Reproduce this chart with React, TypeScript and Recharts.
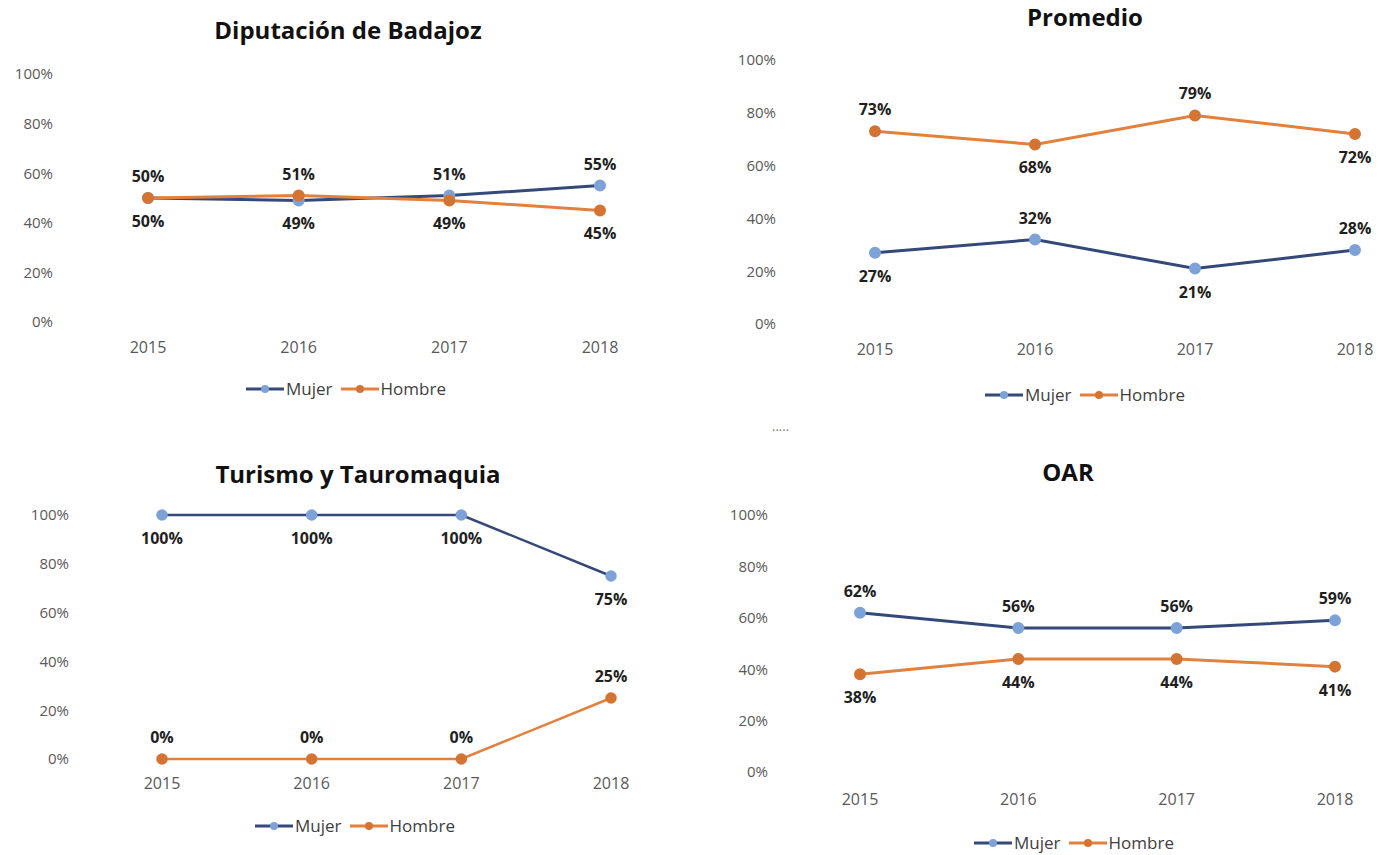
import { LineChart, Line, XAxis, YAxis, Legend, LabelList } from "recharts";

const years = ["2015", "2016", "2017", "2018"];
const yTicks = [0, 20, 40, 60, 80, 100];

const badajozMujer = [50, 49, 51, 55];
const badajozHombre = [50, 51, 49, 45];
const promedioMujer = [27, 32, 21, 28];
const promedioHombre = [73, 68, 79, 72];
const turismoMujer = [100, 100, 100, 75];
const turismoHombre = [0, 0, 0, 25];
const oarMujer = [62, 56, 56, 59];
const oarHombre = [38, 44, 44, 41];

// where each data label sits: 1 = above the point, -1 = below
const badajozMujerPos = [-1, -1, 1, 1];
const badajozHombrePos = [1, 1, -1, -1];
const promedioMujerPos = [-1, 1, -1, 1];
const promedioHombrePos = [1, -1, 1, -1];
const turismoMujerPos = [-1, -1, -1, -1];
const turismoHombrePos = [1, 1, 1, 1];
const oarMujerPos = [1, 1, 1, 1];
const oarHombrePos = [-1, -1, -1, -1];

const MUJER_LINE = "#34497a";
const MUJER_DOT = "#7da2d8";
const HOMBRE_LINE = "#e2803c";
const HOMBRE_DOT = "#d57432";
const FONT = "'Open Sans', sans-serif";

const makeLabel = (pos: number[]) => (props: any) => {
  const { x, y, value, index } = props;
  const up = pos[index] > 0;
  return (
    <text
      x={x}
      y={up ? y - 16 : y + 29}
      textAnchor="middle"
      fontFamily={FONT}
      fontWeight={700}
      fontSize={16}
      fill="#1f1f1f"
    >
      {value}%
    </text>
  );
};

const legendContent = () => (
  <div style={{ display: "flex", justifyContent: "center", fontFamily: FONT, fontSize: 17, color: "#404040" }}>
    {[
      { name: "Mujer", line: MUJER_LINE, dot: MUJER_DOT },
      { name: "Hombre", line: HOMBRE_LINE, dot: HOMBRE_DOT },
    ].map((it) => (
      <span key={it.name} style={{ display: "inline-flex", alignItems: "center", marginRight: 8 }}>
        <svg width={38} height={12}>
          <line x1={0} y1={6} x2={38} y2={6} stroke={it.line} strokeWidth={3} />
          <circle cx={19} cy={6} r={4} fill={it.dot} />
        </svg>
        <span style={{ marginLeft: 2 }}>{it.name}</span>
      </span>
    ))}
  </div>
);

type PanelProps = {
  title: string;
  mujer: number[];
  hombre: number[];
  mujerPos: number[];
  hombrePos: number[];
  left: number;
  top: number;
  width: number;
  height: number;
  yWidth: number;
  yGap: number;
  xGap: number;
  xPad: number;
  margin: { top: number; right: number; bottom: number; left: number };
  titleX: number;
  titleY: number;
  legendX: number;
  legendY: number;
  stroke: number;
};

function Panel(p: PanelProps) {
  const data = years.map((y, i) => ({ year: y, Mujer: p.mujer[i], Hombre: p.hombre[i] }));
  return (
    <>
      <div
        style={{
          position: "absolute",
          left: p.titleX - 250,
          top: p.titleY - 17,
          width: 500,
          textAlign: "center",
          fontFamily: FONT,
          fontWeight: 700,
          fontSize: 24,
          color: "#111",
        }}
      >
        {p.title}
      </div>
      <div style={{ position: "absolute", left: p.left, top: p.top }}>
        <LineChart width={p.width} height={p.height} data={data} margin={p.margin}>
          <XAxis
            dataKey="year"
            axisLine={false}
            tickLine={false}
            tickSize={0}
            tickMargin={p.xGap}
            height={30}
            padding={{ left: p.xPad, right: p.xPad }}
            tick={{ fontFamily: FONT, fontSize: 16, fill: "#595959" }}
          />
          <YAxis
            domain={[0, 100]}
            ticks={yTicks}
            tickFormatter={(v) => `${v}%`}
            axisLine={false}
            tickLine={false}
            tickSize={0}
            tickMargin={p.yGap}
            width={p.yWidth}
            tick={{ fontFamily: FONT, fontSize: 15, fill: "#595959" }}
          />
          <Legend
            layout="horizontal"
            verticalAlign="middle"
            content={legendContent}
            wrapperStyle={{ top: p.legendY - p.top - 12, left: p.legendX - p.left - 150, width: 300 }}
          />
          <Line
            dataKey="Mujer"
            stroke={MUJER_LINE}
            strokeWidth={p.stroke}
            dot={{ r: 4.5, fill: MUJER_DOT, stroke: MUJER_DOT }}
            isAnimationActive={false}
          >
            <LabelList dataKey="Mujer" content={makeLabel(p.mujerPos)} />
          </Line>
          <Line
            dataKey="Hombre"
            stroke={HOMBRE_LINE}
            strokeWidth={p.stroke}
            dot={{ r: 4.5, fill: HOMBRE_DOT, stroke: HOMBRE_DOT }}
            isAnimationActive={false}
          >
            <LabelList dataKey="Hombre" content={makeLabel(p.hombrePos)} />
          </Line>
        </LineChart>
      </div>
    </>
  );
}

export default function App() {
  return (
    <div
      style={{
        position: "fixed",
        left: 0,
        top: 0,
        width: 1394,
        height: 855,
        overflow: "hidden",
        background: "#fff",
      }}
    >
      <Panel
        title="Diputación de Badajoz"
        mujer={badajozMujer}
        hombre={badajozHombre}
        mujerPos={badajozMujerPos}
        hombrePos={badajozHombrePos}
        left={0}
        top={0}
        width={700}
        height={420}
        yWidth={72}
        yGap={19}
        xGap={20}
        xPad={76}
        margin={{ top: 74, right: 24, bottom: 68, left: 0 }}
        titleX={348}
        titleY={30}
        legendX={350}
        legendY={389}
        stroke={3}
      />
      <Panel
        title="Promedio"
        mujer={promedioMujer}
        hombre={promedioHombre}
        mujerPos={promedioMujerPos}
        hombrePos={promedioHombrePos}
        left={700}
        top={0}
        width={760}
        height={420}
        yWidth={95}
        yGap={19}
        xGap={20}
        xPad={80}
        margin={{ top: 60, right: 25, bottom: 66, left: 0 }}
        titleX={1085}
        titleY={17}
        legendX={1089}
        legendY={395}
        stroke={3}
      />
      <Panel
        title="Turismo y Tauromaquia"
        mujer={turismoMujer}
        hombre={turismoHombre}
        mujerPos={turismoMujerPos}
        hombrePos={turismoHombrePos}
        left={0}
        top={430}
        width={720}
        height={425}
        yWidth={87}
        yGap={18}
        xGap={19}
        xPad={75}
        margin={{ top: 85, right: 34, bottom: 66, left: 0 }}
        titleX={358}
        titleY={474}
        legendX={359}
        legendY={826}
        stroke={2.5}
      />
      <Panel
        title="OAR"
        mujer={oarMujer}
        hombre={oarHombre}
        mujerPos={oarMujerPos}
        hombrePos={oarHombrePos}
        left={700}
        top={430}
        width={760}
        height={425}
        yWidth={81}
        yGap={13}
        xGap={22}
        xPad={79}
        margin={{ top: 85, right: 46, bottom: 53, left: 0 }}
        titleX={1068}
        titleY={472}
        legendX={1078}
        legendY={843}
        stroke={3}
      />
      <div style={{ position: "absolute", left: 772, top: 417, fontFamily: FONT, fontSize: 13, color: "#777" }}>
        .....
      </div>
    </div>
  );
}
